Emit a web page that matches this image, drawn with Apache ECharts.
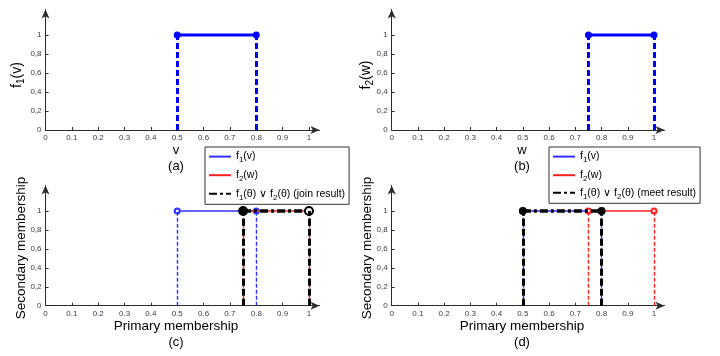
<!DOCTYPE html>
<html><head><meta charset="utf-8">
<script src="https://cdn.jsdelivr.net/npm/echarts@6/dist/echarts.min.js"></script>
<style>html,body{margin:0;padding:0;background:#fff}#chart{width:720px;height:356px}</style>
</head><body><div id="chart"></div>
<script>
// Tick positions and their printed labels
const xTickValues = [0, 0.1, 0.2, 0.3, 0.4, 0.5, 0.6, 0.7, 0.8, 0.9, 1];
const xTickLabels = ['0', '0.1', '0.2', '0.3', '0.4', '0.5', '0.6', '0.7', '0.8', '0.9', '1'];
const yTickValues = [0, 0.2, 0.4, 0.6, 0.8, 1];
const yTickLabels = ['0', '0,2', '0,4', '0,6', '0,8', '1'];

// Interval secondary membership functions: support endpoints and grades
const f1Support = [0.5, 0.8];
const f1Grade = [1, 1];
const f2Support = [0.75, 1];
const f2Grade = [1, 1];
const joinSupport = [0.75, 1];
const joinGrade = [1, 1];
const meetSupport = [0.5, 0.8];
const meetGrade = [1, 1];

// Legend entries
const f1Name = 'f1(v)';
const f2Name = 'f2(w)';
const joinName = 'f1(θ) ∨ f2(θ) (join result)';
const meetName = 'f1(θ) ∨ f2(θ) (meet result)';

const BLUE = '#0000ff', THIN_BLUE = '#3030ff', RED = '#ff2020', BLACK = '#000000';
const FONT = 'Liberation Sans, Arial, sans-serif';

const pts = (xs, ys) => xs.map((x, i) => [x, ys[i]]);
const drops = (xs, ys) => xs.map((x, i) => [{ coord: [x, 0] }, { coord: [x, ys[i]] }]);
const pick = (vals, labels) => v => {
  let best = 0;
  vals.forEach((t, i) => { if (Math.abs(t - v) < Math.abs(vals[best] - v)) best = i; });
  return labels[best];
};
const subscript = s => s.replace(/f([12])/g, 'f{s|$1}');

const grids = [
  { left: 45.5, top: 9.4, width: 274, height: 120.6 },
  { left: 391.7, top: 9.4, width: 272.8, height: 120.6 },
  { left: 45.5, top: 185.4, width: 274, height: 120.3 },
  { left: 391.7, top: 185.4, width: 272.8, height: 120.3 }
];

const axisLine = { show: true, onZero: false, symbol: ['none', 'arrow'], symbolSize: [6, 9], lineStyle: { color: '#2b2b2b', width: 1 } };

const xAxes = grids.map((g, i) => ({
  type: 'value', gridIndex: i, min: 0, max: 1.04,
  axisLine: axisLine,
  axisTick: { show: true, inside: true, length: 3, customValues: xTickValues, lineStyle: { color: '#2b2b2b' } },
  axisLabel: { customValues: xTickValues, formatter: pick(xTickValues, xTickLabels), fontSize: 8, color: '#3a3a4a', margin: 4, fontFamily: FONT },
  splitLine: { show: false }
}));
const yAxes = grids.map((g, i) => ({
  type: 'value', gridIndex: i, min: 0, max: 1.27,
  axisLine: axisLine,
  axisTick: { show: true, inside: true, length: 3, customValues: yTickValues, lineStyle: { color: '#2b2b2b' } },
  axisLabel: { customValues: yTickValues, formatter: pick(yTickValues, yTickLabels), fontSize: 8, color: '#3a3a4a', margin: 4, fontFamily: FONT },
  splitLine: { show: false }
}));

function mfSeries(name, idx, xs, ys, o) {
  return {
    type: 'line', name: name, xAxisIndex: idx, yAxisIndex: idx, z: o.z, color: o.color,
    data: pts(xs, ys).map((p, i) => o.fills ? { value: p, itemStyle: { color: o.fills[i], borderColor: o.color, borderWidth: o.border || 0 } } : p),
    symbol: o.symbol, symbolSize: o.symbolSize, showAllSymbol: true,
    itemStyle: { color: o.color, borderColor: o.color, borderWidth: o.border || 0 },
    lineStyle: { color: o.color, width: o.width, type: o.type || 'solid' },
    emphasis: { disabled: true }, silent: true,
    markLine: {
      silent: true, symbol: ['none', 'none'], label: { show: false }, animation: false, precision: 4,
      lineStyle: { color: o.color, width: o.dropWidth, type: o.dropType, opacity: 1 },
      emphasis: { disabled: true },
      data: drops(xs, ys)
    }
  };
}

const thin = c => ({ color: c, width: 1.4, symbol: 'emptyCircle', symbolSize: 5, dropWidth: 1.4, dropType: [4, 2] });

const series = [
  // (a) f1(v)
  mfSeries('f1a', 0, f1Support, f1Grade, { color: BLUE, width: 3, symbol: 'circle', symbolSize: 7, dropWidth: 3, dropType: [6, 3], z: 2 }),
  // (b) f2(w)
  mfSeries('f2b', 1, f2Support, f2Grade, { color: BLUE, width: 3, symbol: 'circle', symbolSize: 7, dropWidth: 3, dropType: [6, 3], z: 2 }),
  // (c) inputs and join
  mfSeries(f1Name, 2, f1Support, f1Grade, Object.assign(thin(THIN_BLUE), { z: 2 })),
  mfSeries(f2Name, 2, f2Support, f2Grade, Object.assign(thin(RED), { z: 3 })),
  mfSeries(joinName, 2, joinSupport, joinGrade, { color: BLACK, width: 3.5, type: [8, 3, 3, 3], symbol: 'circle', symbolSize: 8, fills: [BLACK, '#ffffff'], border: 2, dropWidth: 3, dropType: [7, 3], z: 4 }),
  // (d) inputs and meet
  mfSeries(f1Name, 3, f1Support, f1Grade, Object.assign(thin(THIN_BLUE), { z: 2 })),
  mfSeries(f2Name, 3, f2Support, f2Grade, Object.assign(thin(RED), { z: 3 })),
  mfSeries(meetName, 3, meetSupport, meetGrade, { color: BLACK, width: 3.5, type: [8, 3, 3, 3], symbol: 'circle', symbolSize: 8, dropWidth: 3, dropType: [7, 3], z: 4 })
];

const richSub = { s: { fontSize: 8, fontFamily: FONT, padding: [7, 0, 0, 0] } };
const legendBase = {
  orient: 'vertical', itemWidth: 22, itemHeight: 14, itemGap: 4.5, padding: [3, 4, 3, 3],
  backgroundColor: '#ffffff', borderColor: '#333333', borderWidth: 1, borderRadius: 0,
  itemStyle: { opacity: 0 }, selectedMode: false, z: 10,
  formatter: subscript,
  textStyle: { fontSize: 10.5, fontFamily: FONT, color: '#000', rich: richSub }
};

function label(text, x, y, size, rot) {
  return {
    type: 'text', x: x, y: y, rotation: rot || 0, silent: true,
    style: { text: subscript(text), fontSize: size, fontFamily: FONT, fill: '#000', align: 'center', verticalAlign: 'middle',
      rich: { s: { fontSize: Math.round(size * 0.72), fontFamily: FONT, padding: [Math.round(size * 0.6), 0, 0, 0] } } }
  };
}

const chart = echarts.init(document.getElementById('chart'), null, { renderer: 'canvas' });
chart.setOption({
  animation: false,
  backgroundColor: '#ffffff',
  grid: grids.map(g => Object.assign({ containLabel: false }, g)),
  xAxis: xAxes,
  yAxis: yAxes,
  series: series,
  legend: [
    Object.assign({}, legendBase, { data: [f1Name, f2Name, joinName], left: 205, top: 147 }),
    Object.assign({}, legendBase, { data: [f1Name, f2Name, meetName], left: 549, top: 147 })
  ],
  graphic: [
    label('f1(v)', 17, 75, 14, Math.PI / 2),
    label('f2(w)', 366, 75, 14, Math.PI / 2),
    label('v', 176, 150, 13),
    label('(a)', 176, 166, 13),
    label('w', 522, 150, 13),
    label('(b)', 522, 166, 13),
    label('Secondary membership', 21, 248, 13.5, Math.PI / 2),
    label('Secondary membership', 367, 248, 13.5, Math.PI / 2),
    label('Primary membership', 176, 326, 13.5),
    label('(c)', 176, 342, 13),
    label('Primary membership', 522, 326, 13.5),
    label('(d)', 522, 342, 13)
  ]
});
</script></body></html>
